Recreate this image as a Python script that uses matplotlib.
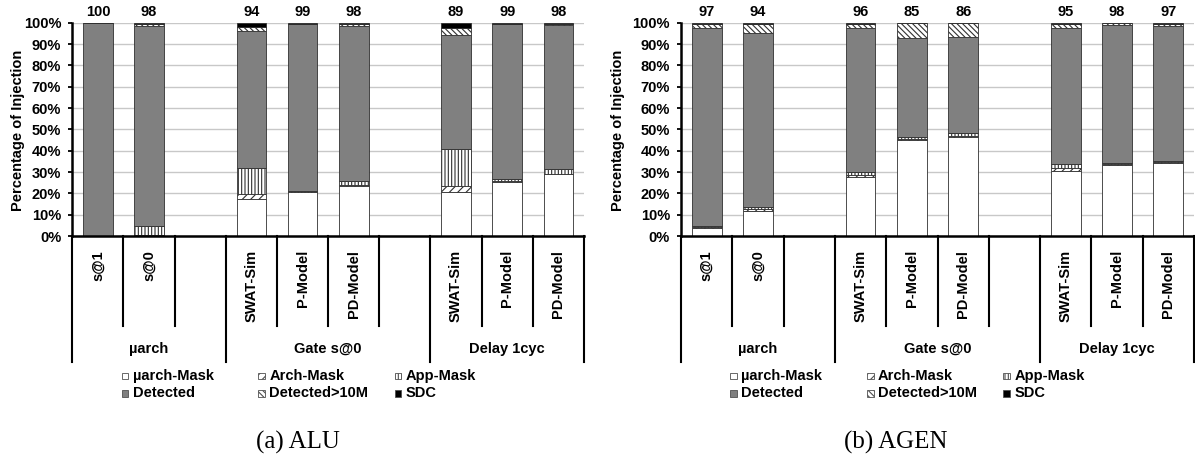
import numpy as np
import matplotlib
matplotlib.use("Agg")
import matplotlib.pyplot as plt
from matplotlib.patches import Rectangle

plt.rcParams['font.family'] = ['Liberation Sans', 'DejaVu Sans']
plt.rcParams['font.weight'] = 'bold'
plt.rcParams['hatch.linewidth'] = 0.8

# slots on the x axis ('' = empty spacer slot)
slots = ['s@1', 's@0', '', 'SWAT-Sim', 'P-Model', 'PD-Model', '', 'SWAT-Sim', 'P-Model', 'PD-Model']
bar_pos = [0, 1, 3, 4, 5, 7, 8, 9]
groups = ['\u00b5arch', 'Gate s@0', 'Delay 1cyc']

legend_names = ['\u00b5arch-Mask', 'Arch-Mask', 'App-Mask', 'Detected', 'Detected>10M', 'SDC']

# (a) ALU, percent of injections per outcome, bottom to top
alu_umask = [0.0, 0.3, 17.5, 20.5, 23.6, 20.6, 25.4, 29.0]
alu_arch = [0.0, 0.2, 2.0, 0.3, 0.4, 2.9, 0.3, 0.3]
alu_app = [0.0, 4.0, 12.5, 0.5, 2.0, 17.3, 1.0, 2.0]
alu_det = [100.0, 94.0, 64.0, 78.2, 72.5, 53.4, 72.8, 67.7]
alu_det10 = [0.0, 0.8, 2.2, 0.0, 1.0, 3.1, 0.0, 0.5]
alu_sdc = [0.0, 0.7, 1.8, 0.5, 0.5, 2.7, 0.5, 0.5]
alu_top = [100, 98, 94, 99, 98, 89, 99, 98]

# (b) AGEN
agen_umask = [3.8, 11.7, 27.7, 44.9, 46.3, 30.4, 33.5, 34.2]
agen_arch = [0.4, 1.1, 0.9, 0.6, 0.5, 1.6, 0.3, 0.3]
agen_app = [0.4, 0.7, 1.4, 1.0, 1.4, 1.7, 0.4, 0.5]
agen_det = [93.0, 81.9, 67.6, 46.1, 45.3, 63.6, 64.9, 63.6]
agen_det10 = [1.9, 4.0, 1.9, 7.3, 6.4, 2.2, 0.6, 0.8]
agen_sdc = [0.5, 0.6, 0.5, 0.1, 0.1, 0.5, 0.3, 0.6]
agen_top = [97, 94, 96, 85, 86, 95, 98, 97]

faces = ['white', 'white', 'white', '#808080', 'white', 'black']
hatches = [None, '////', '|||||', None, '\\' * 6, None]

FS = 10.5


def draw(ax, series, tops, ylabel_x):
    bottom = np.zeros(len(bar_pos))
    for vals, fc, h in zip(series, faces, hatches):
        ax.bar(bar_pos, vals, width=0.58, bottom=bottom, color=fc, hatch=h,
               edgecolor='#303030', linewidth=0.6, zorder=2)
        bottom += np.array(vals)

    for x, t in zip(bar_pos, tops):
        ax.annotate(str(t), (x, 100), xytext=(0, 7.5), textcoords='offset points',
                    ha='center', va='center', fontsize=FS, fontweight='bold')

    ax.set_xlim(-0.5, 9.5)
    ax.set_ylim(0, 100)
    ax.set_yticks(range(0, 101, 10))
    ax.set_yticklabels([f'{v}%' for v in range(0, 101, 10)], fontsize=FS, fontweight='bold')
    ax.tick_params(axis='y', length=3, width=1.3, pad=5)
    ax.set_xticks(range(len(slots)))
    ax.set_xticklabels(slots, rotation=90, fontsize=FS, fontweight='bold')
    ax.tick_params(axis='x', length=0, pad=10)
    ax.yaxis.grid(True, color='#c8c8c8', linewidth=1.0)
    ax.set_axisbelow(True)
    for s in ['top', 'right']:
        ax.spines[s].set_visible(False)
    for s in ['left', 'bottom']:
        ax.spines[s].set_linewidth(1.8)
    ax.set_ylabel('Percentage of Injection', fontsize=FS, fontweight='bold')
    ax.yaxis.set_label_coords(ylabel_x, 0.497)

    # dividers below the axis
    tr = ax.get_xaxis_transform()
    for x in [0.5, 1.5, 3.5, 4.5, 5.5, 7.5, 8.5]:
        ax.plot([x, x], [0, -0.422], transform=tr, color='black', lw=1.5, clip_on=False)
    for x in [-0.5, 2.5, 6.5, 9.5]:
        ax.plot([x, x], [0, -0.589], transform=tr, color='black', lw=1.5, clip_on=False)
    for gx, g in zip([1.0, 4.5, 8.0], groups):
        ax.text(gx, -0.53, g, transform=tr, ha='center', va='center',
                fontsize=FS, fontweight='bold')

    # legend, 2 rows x 3 columns
    w = ax.get_position().width * 1195
    h = ax.get_position().height * 459
    cols = [52.7, 189.4, 325.7]
    rows = [-0.656, -0.7375]
    ms = 6.7
    for i, name in enumerate(legend_names):
        cx = cols[i % 3] / w
        cy = rows[i // 3]
        ax.add_patch(Rectangle((cx - ms / 2 / w, cy - ms / 2 / h), ms / w, ms / h,
                               facecolor=faces[i], hatch=hatches[i], edgecolor='#505050',
                               linewidth=0.6, transform=ax.transAxes, clip_on=False))
        ax.text(cx + 7.7 / w, cy, name, transform=ax.transAxes, ha='left', va='center',
                fontsize=FS, fontweight='bold')


fig = plt.figure(figsize=(11.95, 4.59), dpi=100)
ax1 = fig.add_axes([72.3 / 1195, 223 / 459, 511.7 / 1195, 213.3 / 459])
ax2 = fig.add_axes([681 / 1195, 223 / 459, 513 / 1195, 213.3 / 459])

draw(ax1, [alu_umask, alu_arch, alu_app, alu_det, alu_det10, alu_sdc], alu_top, -0.0924)
draw(ax2, [agen_umask, agen_arch, agen_app, agen_det, agen_det10, agen_sdc], agen_top, -0.109)

fig.text(298 / 1195, 1 - 442 / 459, '(a) ALU', family='Liberation Serif',
         fontweight='normal', fontsize=18, ha='center', va='center')
fig.text(896 / 1195, 1 - 442 / 459, '(b) AGEN', family='Liberation Serif',
         fontweight='normal', fontsize=18, ha='center', va='center')

fig.savefig('out.png', dpi=100)
